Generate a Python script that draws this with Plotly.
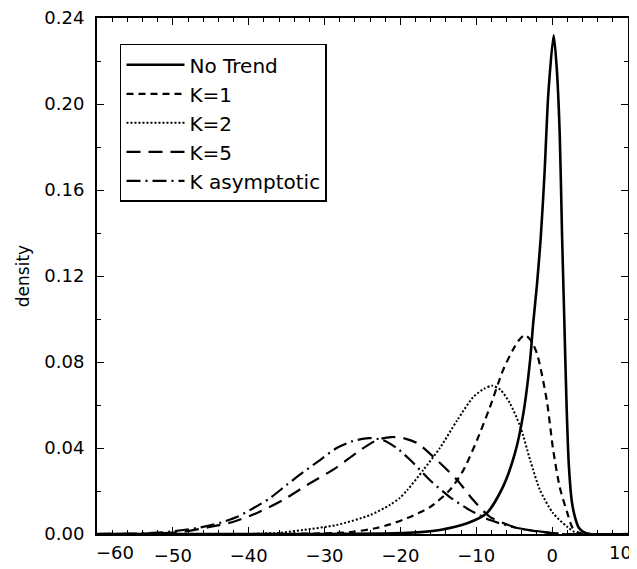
import plotly.graph_objects as go

# ---- data ----
x_notrend = [-60, -30, -22, -19.1, -14.8, -11.2, -8.6, -6.5, -4.9, -3.8, -2.9, -2.5, -2.0, -1.5, -1.0, -0.5, 0.2, 0.6, 1.0, 1.3, 1.6, 1.9, 2.2, 2.6, 3.0, 3.5, 4.1, 5, 10]
y_notrend = [0, 0, 0.0002, 0.0005, 0.0019, 0.005, 0.0098, 0.0218, 0.0376, 0.056, 0.081, 0.098, 0.116, 0.138, 0.168, 0.205, 0.232, 0.217, 0.186, 0.14, 0.10, 0.06, 0.032, 0.015, 0.008, 0.003, 0.001, 0, 0]

x_k1 = [-60, -40, -30, -26.3, -23.1, -21.4, -19.1, -16.1, -13.5, -11.7, -9.9, -8.2, -6.5, -5.2, -4.3, -3.6, -2.8, -2.0, -0.7, 0.1, 1.0, 2.0, 2.7, 3.6, 5, 10]
y_k1 = [0, 0, 0.0003, 0.001, 0.0028, 0.0045, 0.0074, 0.0125, 0.0204, 0.0297, 0.0437, 0.059, 0.076, 0.0855, 0.0905, 0.0925, 0.090, 0.084, 0.062, 0.040, 0.0218, 0.0098, 0.0028, 0.0005, 0, 0]

x_k2 = [-60, -40, -36, -32.8, -28.4, -24, -21.4, -20.1, -19.1, -17.0, -14.8, -12.5, -10.4, -9.0, -7.9, -6.8, -5.6, -4.2, -2.9, -1.6, 0.1, 2.0, 3.5, 10]
y_k2 = [0, 0, 0.0005, 0.0019, 0.0042, 0.0088, 0.0135, 0.0167, 0.0204, 0.0297, 0.040, 0.053, 0.0637, 0.0675, 0.069, 0.067, 0.061, 0.050, 0.0344, 0.0204, 0.0098, 0.0033, 0, 0]

x_k5 = [-60, -52, -48.7, -45.5, -42.1, -38.9, -35.5, -32.3, -28.4, -25.7, -23.1, -21.2, -19.5, -17.8, -15.2, -12.5, -10.4, -8.2, -4.6, -0.3, 2, 10]
y_k5 = [0, 0.0003, 0.001, 0.003, 0.0056, 0.0098, 0.0158, 0.0228, 0.031, 0.038, 0.0437, 0.0451, 0.0445, 0.0423, 0.0344, 0.025, 0.0158, 0.008, 0.0028, 0.0005, 0, 0]

x_kasym = [-60, -54, -50, -46, -43.5, -41.5, -39.4, -37.2, -35.0, -32.8, -30.6, -28.4, -26.3, -24.2, -22.3, -20.5, -18.7, -16.1, -13.5, -10.8, -8.2, -4.6, -1.2, 1, 10]
y_kasym = [0, 0.0003, 0.0012, 0.0033, 0.0055, 0.008, 0.012, 0.0167, 0.0228, 0.0288, 0.0344, 0.040, 0.0432, 0.0446, 0.0437, 0.040, 0.0344, 0.025, 0.0172, 0.011, 0.0065, 0.0028, 0.001, 0, 0]

names = ["No Trend", "K=1", "K=2", "K=5", "K asymptotic"]
x_ticks = [-60, -50, -40, -30, -20, -10, 0, 10]
x_ticktext = ["", "\u221250", "\u221240", "\u221230", "\u221220", "\u221210", "0", ""]
y_ticks = [0.00, 0.04, 0.08, 0.12, 0.16, 0.20, 0.24]

series = [
    (x_notrend, y_notrend, dict(color="black", width=2.6, dash="solid")),
    (x_k1, y_k1, dict(color="black", width=2.2, dash="7px,5px")),
    (x_k2, y_k2, dict(color="black", width=2.0, dash="2px,2px")),
    (x_k5, y_k5, dict(color="black", width=2.2, dash="14px,8px")),
    (x_kasym, y_kasym, dict(color="black", width=2.2, dash="14px,5px,2px,5px")),
]

fig = go.Figure()
for (xs, ys, ln), nm in zip(series, names):
    fig.add_trace(go.Scatter(x=xs, y=ys, mode="lines", name=nm,
                             line=dict(shape="spline", smoothing=0.7, **ln)))

tickfont = dict(family="DejaVu Sans", size=18, color="black")

fig.update_layout(
    width=629, height=561,
    margin=dict(l=89, r=9, t=10, b=35),
    paper_bgcolor="white", plot_bgcolor="white",
    font=dict(family="DejaVu Sans", color="black"),
    showlegend=True,
    legend=dict(
        x=0.0433, y=0.95, xanchor="left", yanchor="top",
        bordercolor="black", borderwidth=1.5, bgcolor="white",
        font=dict(family="DejaVu Sans", size=20, color="black"),
        itemwidth=58, tracegroupgap=0,
    ),
    xaxis=dict(
        range=[-60, 10], tickmode="array", tickvals=x_ticks, ticktext=x_ticktext,
        ticks="inside", ticklen=7, tickwidth=1.2, tickcolor="black",
        showline=True, linecolor="black", linewidth=2, mirror="ticks",
        showgrid=False, zeroline=False, tickfont=tickfont, ticklabelstandoff=4,
        automargin=False, ticklabeloverflow="allow",
        minor=dict(dtick=2, ticks="inside", ticklen=4, tickwidth=1, tickcolor="black", showgrid=False),
    ),
    yaxis=dict(
        range=[0, 0.24], tickmode="array", tickvals=y_ticks, tickformat=".2f",
        ticks="inside", ticklen=7, tickwidth=1.2, tickcolor="black",
        showline=True, linecolor="black", linewidth=2, mirror="ticks",
        showgrid=False, zeroline=False, tickfont=tickfont, ticklabelstandoff=7,
        automargin=False, ticklabeloverflow="allow",
        minor=dict(dtick=0.02, ticks="inside", ticklen=4, tickwidth=1, tickcolor="black", showgrid=False),
        title=dict(text="density", font=dict(family="DejaVu Sans", size=17, color="black"), standoff=10),
    ),
    annotations=[
        dict(text="\u221260", x=-57.6, xref="x", y=0, yref="paper",
             yanchor="top", yshift=-6, showarrow=False, font=tickfont),
        dict(text="10", x=10, xref="x", y=0, yref="paper", xanchor="right",
             xshift=6, yanchor="top", yshift=-6, showarrow=False, font=tickfont),
    ],
)

fig.write_html("out.html")
